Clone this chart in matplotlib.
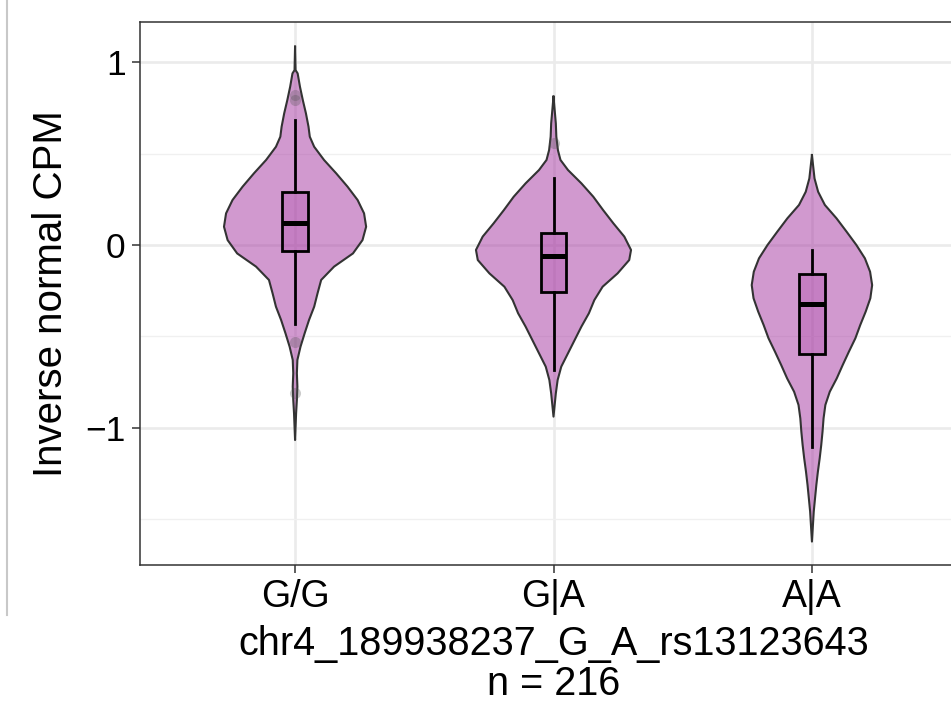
import numpy as np
import matplotlib
matplotlib.use("Agg")
import matplotlib.pyplot as plt
from matplotlib.lines import Line2D

plt.rcParams["font.family"] = ["Liberation Sans", "DejaVu Sans"]

genotypes = ["G/G", "G|A", "A|A"]
snp_label = "chr4_189938237_G_A_rs13123643"
n_samples = 216

# violin outlines: y value and half width (in category units)
gg_y = [1.084, 0.956, 0.938, 0.865, 0.792, 0.720, 0.647, 0.592, 0.537, 0.465, 0.392,
        0.319, 0.246, 0.173, 0.100, 0.027, -0.046, -0.118, -0.191, -0.264, -0.337,
        -0.410, -0.483, -0.556, -0.628, -0.701, -0.774, -0.847, -0.920, -1.066]
gg_w = [0.0, 0.002, 0.010, 0.019, 0.030, 0.042, 0.052, 0.057, 0.074, 0.112, 0.159,
        0.203, 0.242, 0.267, 0.275, 0.261, 0.224, 0.151, 0.101, 0.087, 0.074,
        0.054, 0.037, 0.021, 0.009, 0.007, 0.009, 0.007, 0.004, 0.0]

ga_y = [0.811, 0.665, 0.592, 0.519, 0.465, 0.410, 0.337, 0.264, 0.191, 0.118, 0.046,
        -0.027, -0.082, -0.155, -0.228, -0.301, -0.373, -0.446, -0.519, -0.592,
        -0.665, -0.738, -0.811, -0.938]
ga_w = [0.0, 0.009, 0.011, 0.017, 0.027, 0.056, 0.108, 0.154, 0.192, 0.232, 0.274,
        0.300, 0.293, 0.248, 0.190, 0.158, 0.137, 0.108, 0.082, 0.056,
        0.030, 0.016, 0.009, 0.0]

aa_y = [0.492, 0.364, 0.291, 0.219, 0.146, 0.073, 0.0, -0.073, -0.146, -0.219, -0.291,
        -0.364, -0.437, -0.510, -0.583, -0.656, -0.729, -0.802, -0.874, -0.947,
        -1.020, -1.093, -1.166, -1.239, -1.312, -1.384, -1.457, -1.621]
aa_w = [0.0, 0.010, 0.024, 0.050, 0.095, 0.134, 0.172, 0.205, 0.225, 0.233, 0.226,
        0.208, 0.187, 0.168, 0.143, 0.119, 0.096, 0.069, 0.052, 0.045,
        0.041, 0.036, 0.030, 0.023, 0.017, 0.012, 0.007, 0.0]

# boxplot stats: whisker low, q1, median, q3, whisker high
box_lo = [-0.432, -0.683, -1.102]
box_q1 = [-0.031, -0.255, -0.596]
box_med = [0.122, -0.058, -0.324]
box_q3 = [0.288, 0.064, -0.160]
box_hi = [0.683, 0.364, -0.027]
outliers = [[0.82, 0.79, -0.53, -0.81], [0.556], []]

violin_y = [gg_y, ga_y, aa_y]
violin_w = [gg_w, ga_w, aa_w]

purple = "#A535A1"

fig = plt.figure(figsize=(9.51, 7.01), dpi=100)
ax = fig.add_axes([140 / 951, 136 / 701, 827 / 951, 543 / 701])

for i, (ys, ws) in enumerate(zip(violin_y, violin_w)):
    pos = i + 1
    ys = np.array(ys)
    ws = np.array(ws)
    ax.fill_betweenx(ys, pos - ws, pos + ws, facecolor=purple, alpha=0.5,
                     edgecolor="none", zorder=2)
    ax.plot(np.concatenate([pos - ws, (pos + ws)[::-1]]),
            np.concatenate([ys, ys[::-1]]), color="#333333", lw=1.5,
            solid_joinstyle="round", zorder=3)

stats = []
for i in range(len(genotypes)):
    stats.append({"whislo": box_lo[i], "q1": box_q1[i], "med": box_med[i],
                  "q3": box_q3[i], "whishi": box_hi[i], "fliers": outliers[i]})

ax.bxp(stats, positions=[1, 2, 3], widths=0.1, patch_artist=True, showcaps=False,
       boxprops=dict(facecolor=(0.647, 0.208, 0.631, 0.25), edgecolor="black", lw=2.0),
       medianprops=dict(color="black", lw=3.6, solid_capstyle="butt"),
       whiskerprops=dict(color="black", lw=2.0),
       flierprops=dict(marker="o", markerfacecolor="#555555", markeredgecolor="none",
                       markersize=8, alpha=0.3),
       zorder=4)

ax.set_xlim(0.4, 3.6)
ax.set_ylim(-1.749, 1.219)
ax.set_xticks([1, 2, 3])
ax.set_xticklabels(genotypes)
ax.set_yticks([-1, 0, 1])
ax.set_yticks([-1.5, -0.5, 0.5], minor=True)

ax.grid(True, which="major", color="#EBEBEB", lw=1.9, zorder=0)
ax.grid(True, which="minor", axis="y", color="#F0F0F0", lw=1.0, zorder=0)
ax.set_axisbelow(True)

for s in ax.spines.values():
    s.set_color("#333333")
    s.set_linewidth(1.1)

ax.tick_params(axis="both", which="major", length=5.8, width=1.1, color="#333333",
               labelcolor="black")
ax.tick_params(axis="x", pad=4, labelsize=27)
ax.tick_params(axis="y", pad=4.5, labelsize=25.5)
ax.tick_params(which="minor", length=0)

ax.set_ylabel("Inverse normal CPM", fontsize=29)
ax.yaxis.set_label_coords(-0.085, 0.5)
ax.set_xlabel(f"{snp_label}\nn = {n_samples}", fontsize=28.5, linespacing=1.06)
ax.xaxis.set_label_coords(0.5, -0.11)

# faint strip of a neighbouring panel on the far left edge
fig.add_artist(Line2D([6.5 / 951, 6.5 / 951], [1, 1 - 615 / 701],
                      transform=fig.transFigure, color="#C8C8C8", lw=1.5))

plt.savefig("out.png", dpi=100)
plt.close()
